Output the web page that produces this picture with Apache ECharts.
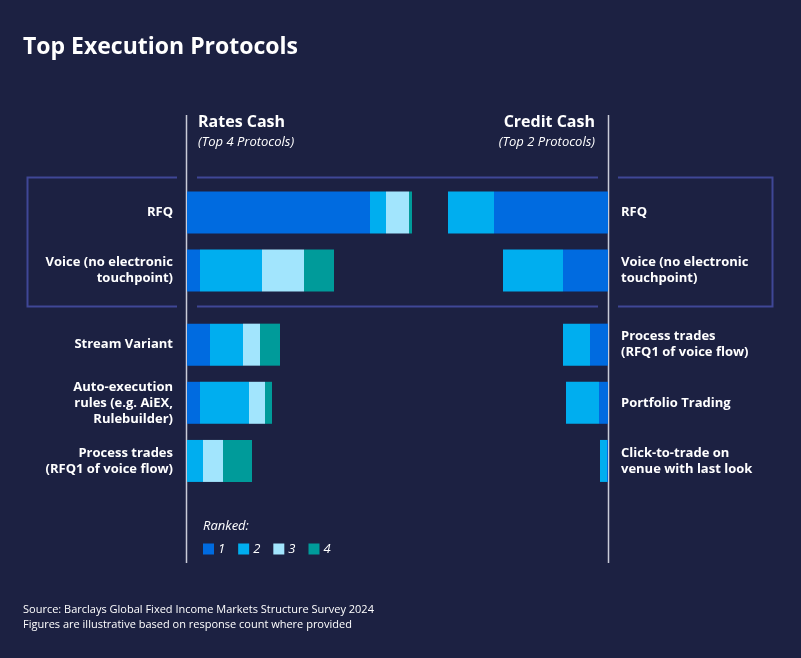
<!DOCTYPE html>
<html>
<head>
<meta charset="utf-8">
<script src="https://cdn.jsdelivr.net/npm/echarts@6/dist/echarts.min.js"></script>
<style>
html,body{margin:0;padding:0;background:#1c2142;}
#chart{width:801px;height:658px;}
</style>
</head>
<body>
<div id="chart"></div>
<script>
// ---- Data ----
const ratesCategories = ['RFQ', 'Voice (no electronic\ntouchpoint)', 'Stream Variant', 'Auto-execution\nrules (e.g. AiEX,\nRulebuilder)', 'Process trades\n(RFQ1 of voice flow)'];
const creditCategories = ['RFQ', 'Voice (no electronic\ntouchpoint)', 'Process trades\n(RFQ1 of voice flow)', 'Portfolio Trading', 'Click-to-trade on\nvenue with last look'];
const rankNames = ['1', '2', '3', '4'];
const ratesRank1 = [183, 13, 23, 13, 0];
const ratesRank2 = [16, 62, 33, 49, 16];
const ratesRank3 = [23, 42, 17, 16, 20];
const ratesRank4 = [3, 30, 20, 7, 29];
const creditRank1 = [114, 45, 18, 9, 1];
const creditRank2 = [46, 60, 27, 33, 7];

const colors = ['#006be0', '#00aeef', '#a2e5fd', '#009b9a'];
const FONT = '"Open Sans"';
const ratesSeries = [ratesRank1, ratesRank2, ratesRank3, ratesRank4];
const creditSeries = [creditRank1, creditRank2];

// Top block (boxed: first 2 rows) and bottom block (last 3 rows)
const blocks = [
  {from: 0, to: 2, top: 183.5, height: 116},
  {from: 2, to: 5, top: 315.6, height: 174.4}
];

const chart = echarts.init(document.getElementById('chart'));
const labelStyle = {color: '#ffffff', fontFamily: FONT, fontWeight: 'bold', fontSize: 13, lineHeight: 16};
const grid = [], xAxis = [], yAxis = [], series = [];
blocks.forEach((b, bi) => {
  const gl = grid.length;
  grid.push({left: 187, top: b.top, width: 250, height: b.height});
  xAxis.push({gridIndex: gl, type: 'value', min: 0, max: 250, show: false});
  yAxis.push({gridIndex: gl, type: 'category', data: ratesCategories.slice(b.from, b.to), inverse: true, position: 'left',
    axisLine: {show: false}, axisTick: {show: false}, splitLine: {show: false},
    axisLabel: Object.assign({margin: 14, align: 'right'}, labelStyle)});
  ratesSeries.forEach((d, i) => series.push({
    name: rankNames[i], type: 'bar', stack: 'rates' + bi, xAxisIndex: gl, yAxisIndex: gl,
    data: d.slice(b.from, b.to), barWidth: 42, itemStyle: {color: colors[i]}, silent: true
  }));
  const gr = grid.length;
  grid.push({left: 358, top: b.top, width: 250, height: b.height});
  xAxis.push({gridIndex: gr, type: 'value', min: 0, max: 250, inverse: true, show: false});
  yAxis.push({gridIndex: gr, type: 'category', data: creditCategories.slice(b.from, b.to), inverse: true, position: 'right',
    axisLine: {show: false}, axisTick: {show: false}, splitLine: {show: false},
    axisLabel: Object.assign({margin: 13, align: 'left'}, labelStyle)});
  creditSeries.forEach((d, i) => series.push({
    name: rankNames[i], type: 'bar', stack: 'credit' + bi, xAxisIndex: gr, yAxisIndex: gr,
    data: d.slice(b.from, b.to), barWidth: 42, itemStyle: {color: colors[i]}, silent: true
  }));
});

const boxColor = '#3f4796';
const lineColor = '#c9ccd8';
chart.setOption({
  backgroundColor: '#1c2142',
  animation: false,
  grid: grid,
  xAxis: xAxis,
  yAxis: yAxis,
  legend: {
    data: rankNames, left: 203, top: 542.5, padding: 0, icon: 'rect', itemWidth: 11, itemHeight: 11, itemGap: 13,
    textStyle: {color: '#ffffff', fontFamily: FONT, fontStyle: 'italic', fontSize: 13, padding: [0, 0, 0, -1]},
    selectedMode: false
  },
  series: series,
  graphic: [
    {type: 'text', left: 23, top: 36, style: {text: 'Top Execution Protocols', fill: '#fff', font: 'bold 23px ' + FONT}},
    {type: 'text', left: 198, top: 114, style: {text: 'Rates Cash', fill: '#fff', font: 'bold 16px ' + FONT}},
    {type: 'text', left: 198, top: 136, style: {text: '(Top 4 Protocols)', fill: '#fff', font: 'italic 13px ' + FONT}},
    {type: 'text', right: 206, top: 114, style: {text: 'Credit Cash', fill: '#fff', font: 'bold 16px ' + FONT, align: 'right'}},
    {type: 'text', right: 206, top: 136, style: {text: '(Top 2 Protocols)', fill: '#fff', font: 'italic 13px ' + FONT, align: 'right'}},
    {type: 'text', left: 203, top: 520, style: {text: 'Ranked:', fill: '#fff', font: 'italic 13px ' + FONT}},
    {type: 'text', left: 23, top: 604, style: {text: 'Source: Barclays Global Fixed Income Markets Structure Survey 2024', fill: '#fff', font: '11px ' + FONT}},
    {type: 'text', left: 23, top: 619, style: {text: 'Figures are illustrative based on response count where provided', fill: '#fff', font: '11px ' + FONT}},
    {type: 'line', shape: {x1: 186.5, y1: 115, x2: 186.5, y2: 563}, style: {stroke: lineColor, lineWidth: 1.5}},
    {type: 'line', shape: {x1: 608.5, y1: 115, x2: 608.5, y2: 563}, style: {stroke: lineColor, lineWidth: 1.5}},
    {type: 'polyline', shape: {points: [[177, 177.5], [27.5, 177.5], [27.5, 306.5], [177, 306.5]]}, style: {stroke: boxColor, lineWidth: 2, fill: null}},
    {type: 'polyline', shape: {points: [[618, 177.5], [772.5, 177.5], [772.5, 306.5], [618, 306.5]]}, style: {stroke: boxColor, lineWidth: 2, fill: null}},
    {type: 'line', shape: {x1: 197, y1: 177.5, x2: 598, y2: 177.5}, style: {stroke: boxColor, lineWidth: 2}},
    {type: 'line', shape: {x1: 197, y1: 306.5, x2: 598, y2: 306.5}, style: {stroke: boxColor, lineWidth: 2}}
  ]
});
</script>
</body>
</html>
